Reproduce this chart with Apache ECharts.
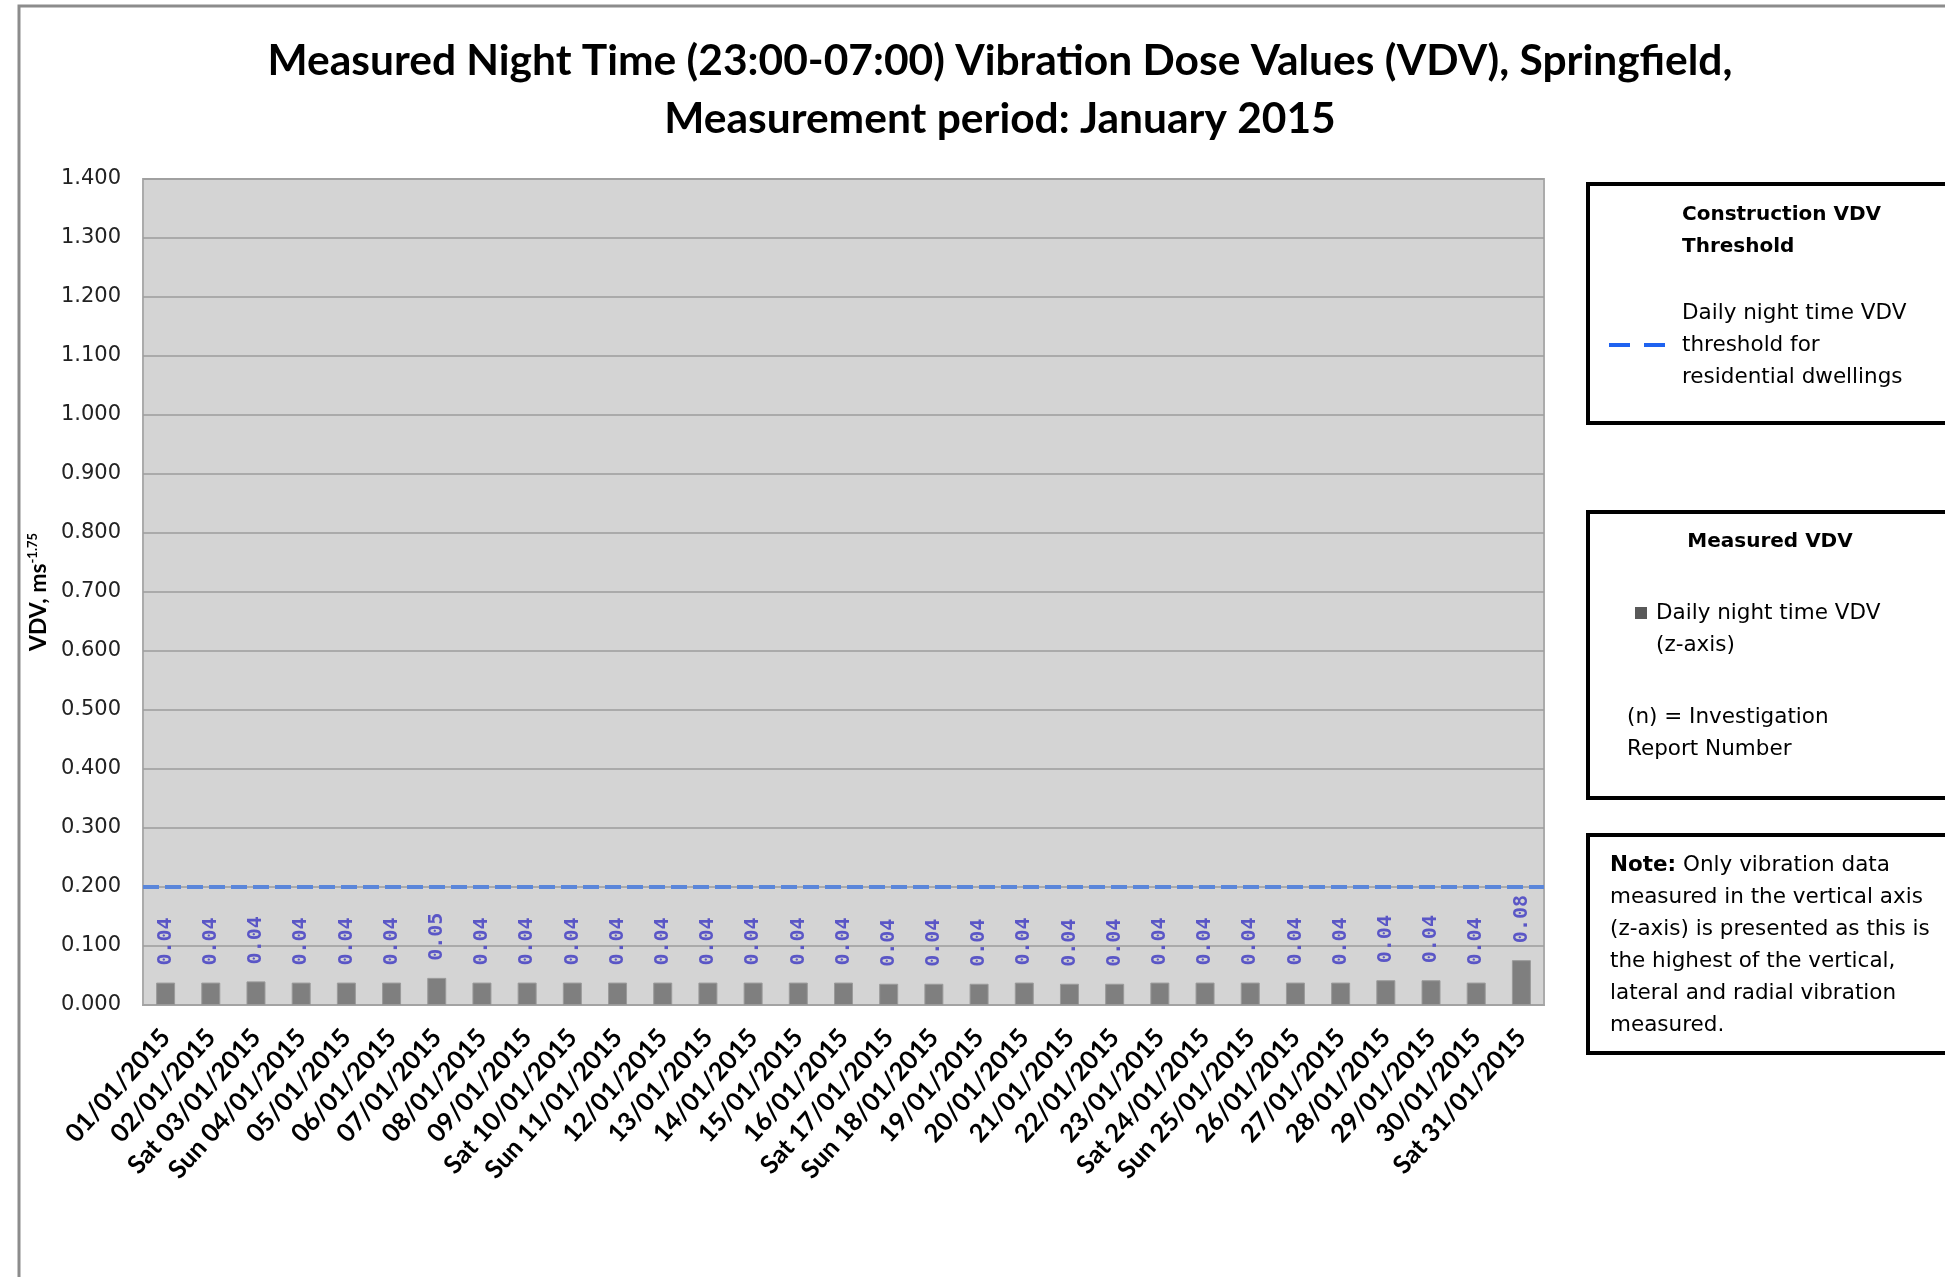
<!DOCTYPE html>
<html>
<head>
<meta charset="utf-8">
<script src="https://cdn.jsdelivr.net/npm/echarts@6.0.0/dist/echarts.min.js"></script>
<style>
  html, body { margin: 0; padding: 0; background: #fff; }
  #chart { width: 1945px; height: 1277px; }
</style>
</head>
<body>
<div id="chart"></div>
<script>
// Night time VDV, January 2015
const categories = [
  "01/01/2015", "02/01/2015", "Sat 03/01/2015", "Sun 04/01/2015", "05/01/2015",
  "06/01/2015", "07/01/2015", "08/01/2015", "09/01/2015", "Sat 10/01/2015",
  "Sun 11/01/2015", "12/01/2015", "13/01/2015", "14/01/2015", "15/01/2015",
  "16/01/2015", "Sat 17/01/2015", "Sun 18/01/2015", "19/01/2015", "20/01/2015",
  "21/01/2015", "22/01/2015", "23/01/2015", "Sat 24/01/2015", "Sun 25/01/2015",
  "26/01/2015", "27/01/2015", "28/01/2015", "29/01/2015", "30/01/2015",
  "Sat 31/01/2015"
];
const vdvValues = [
  0.038, 0.038, 0.040, 0.038, 0.038, 0.038, 0.046, 0.038, 0.038, 0.038,
  0.038, 0.038, 0.038, 0.038, 0.038, 0.038, 0.036, 0.036, 0.036, 0.038,
  0.036, 0.036, 0.038, 0.038, 0.038, 0.038, 0.038, 0.042, 0.042, 0.038,
  0.076
];
const threshold = 0.2;
const yMin = 0;
const yMax = 1.4;
const yStep = 0.1;

const chartDom = document.getElementById("chart");
const myChart = echarts.init(chartDom);

const legendFont = "'DejaVu Sans', Verdana, sans-serif";
const bodyFont = "21.5px " + legendFont;
const headFont = "bold 20px " + legendFont;

// boxes, legend texts and the note on the right
const graphics = [
  // outer frame
  { type: "polyline", silent: true, shape: { points: [[19, 1300], [19, 6], [1960, 6]] },
    style: { stroke: "#8c8c8c", lineWidth: 3, fill: null } },
  // box 1
  { type: "rect", shape: { x: 1588, y: 184, width: 420, height: 239 },
    style: { fill: "#fff", stroke: "#000", lineWidth: 4 } },
  { type: "text", x: 1682, y: 215, style: { text: "Construction VDV", font: headFont, fill: "#000", verticalAlign: "middle" } },
  { type: "text", x: 1682, y: 247, style: { text: "Threshold", font: headFont, fill: "#000", verticalAlign: "middle" } },
  { type: "line", shape: { x1: 1609, y1: 345, x2: 1630, y2: 345 }, style: { stroke: "#1f63f0", lineWidth: 4 } },
  { type: "line", shape: { x1: 1644, y1: 345, x2: 1665, y2: 345 }, style: { stroke: "#1f63f0", lineWidth: 4 } },
  { type: "text", x: 1682, y: 313, style: { text: "Daily night time VDV", font: bodyFont, fill: "#000", verticalAlign: "middle" } },
  { type: "text", x: 1682, y: 345, style: { text: "threshold for", font: bodyFont, fill: "#000", verticalAlign: "middle" } },
  { type: "text", x: 1682, y: 377, style: { text: "residential dwellings", font: bodyFont, fill: "#000", verticalAlign: "middle" } },
  // box 2
  { type: "rect", shape: { x: 1588, y: 512, width: 420, height: 286 },
    style: { fill: "#fff", stroke: "#000", lineWidth: 4 } },
  { type: "text", x: 1770, y: 542, style: { text: "Measured VDV", font: headFont, fill: "#000", align: "center", verticalAlign: "middle" } },
  { type: "rect", shape: { x: 1635, y: 607, width: 12, height: 12 }, style: { fill: "#595959" } },
  { type: "text", x: 1656, y: 613, style: { text: "Daily night time VDV", font: bodyFont, fill: "#000", verticalAlign: "middle" } },
  { type: "text", x: 1656, y: 645, style: { text: "(z-axis)", font: bodyFont, fill: "#000", verticalAlign: "middle" } },
  { type: "text", x: 1627, y: 717, style: { text: "(n) = Investigation", font: bodyFont, fill: "#000", verticalAlign: "middle" } },
  { type: "text", x: 1627, y: 749, style: { text: "Report Number", font: bodyFont, fill: "#000", verticalAlign: "middle" } },
  // box 3
  { type: "rect", shape: { x: 1588, y: 835, width: 420, height: 218 },
    style: { fill: "#fff", stroke: "#000", lineWidth: 4 } },
  { type: "text", x: 1610, y: 865, style: {
      text: "{b|Note:} Only vibration data",
      font: bodyFont, fill: "#000", verticalAlign: "middle",
      rich: { b: { fontWeight: "bold", fontFamily: legendFont, fontSize: 21.5 } } } },
  { type: "text", x: 1610, y: 897, style: { text: "measured in the vertical axis", font: bodyFont, fill: "#000", verticalAlign: "middle" } },
  { type: "text", x: 1610, y: 929, style: { text: "(z-axis) is presented as this is", font: bodyFont, fill: "#000", verticalAlign: "middle" } },
  { type: "text", x: 1610, y: 961, style: { text: "the highest of the vertical,", font: bodyFont, fill: "#000", verticalAlign: "middle" } },
  { type: "text", x: 1610, y: 993, style: { text: "lateral and radial vibration", font: bodyFont, fill: "#000", verticalAlign: "middle" } },
  { type: "text", x: 1610, y: 1025, style: { text: "measured.", font: bodyFont, fill: "#000", verticalAlign: "middle" } }
];

const option = {
  backgroundColor: "#fff",
  animation: false,
  title: {
    text: "Measured Night Time (23:00-07:00) Vibration Dose Values (VDV), Springfield,\nMeasurement period: January 2015",
    left: 995,
    top: 27,
    textAlign: "center",
    textStyle: {
      fontFamily: "Lato, 'Open Sans', sans-serif",
      fontWeight: "bold",
      fontSize: 42.5,
      lineHeight: 58,
      color: "#000"
    }
  },
  grid: {
    left: 143,
    right: 401,
    top: 179,
    bottom: 272,
    show: true,
    backgroundColor: "#d4d4d4",
    borderColor: "#ababab",
    borderWidth: 2
  },
  xAxis: {
    type: "category",
    data: categories,
    axisTick: { show: false },
    axisLine: { lineStyle: { color: "#a3a3a3", width: 2 } },
    axisLabel: {
      rotate: 48,
      interval: 0,
      margin: 28,
      color: "#000",
      fontFamily: "Lato, 'Open Sans', sans-serif",
      fontWeight: "bold",
      fontSize: 25.5
    }
  },
  yAxis: {
    type: "value",
    min: yMin,
    max: yMax,
    interval: yStep,
    name: "{a|VDV, ms}{s|-1.75}",
    nameLocation: "middle",
    nameGap: 91,
    nameTextStyle: {
      rich: {
        a: { fontFamily: "Lato, sans-serif", fontWeight: "bold", fontSize: 23, color: "#000" },
        s: { fontFamily: "Lato, sans-serif", fontWeight: "bold", fontSize: 13, color: "#000", verticalAlign: "top", padding: [0, 0, 12, 0] }
      }
    },
    axisLine: { show: false },
    axisTick: { show: false },
    axisLabel: {
      margin: 22,
      color: "#222",
      fontFamily: "'DejaVu Sans', Verdana, sans-serif",
      fontSize: 21,
      formatter: (v) => v.toFixed(3)
    },
    splitLine: { lineStyle: { color: "#9c9c9c", width: 1.5 } }
  },
  series: [
    {
      name: "Daily night time VDV (z-axis)",
      type: "bar",
      data: vdvValues,
      barWidth: 19,
      itemStyle: { color: "#7f7f7f", borderColor: "#9a9a9a", borderWidth: 1 },
      label: {
        show: true,
        position: "top",
        rotate: 90,
        align: "left",
        verticalAlign: "middle",
        distance: 15,
        offset: [2, 0],
        color: "#5a56c6",
        fontFamily: "'DejaVu Sans Mono', monospace",
        fontWeight: "bold",
        fontSize: 20,
        formatter: (p) => p.value.toFixed(2)
      },
      markLine: {
        silent: true,
        symbol: "none",
        label: { show: false },
        lineStyle: { color: "#5a86da", width: 4, type: [16, 6] },
        data: [{ yAxis: threshold }]
      }
    }
  ],
  graphic: graphics
};

option && myChart.setOption(option);
</script>
</body>
</html>
